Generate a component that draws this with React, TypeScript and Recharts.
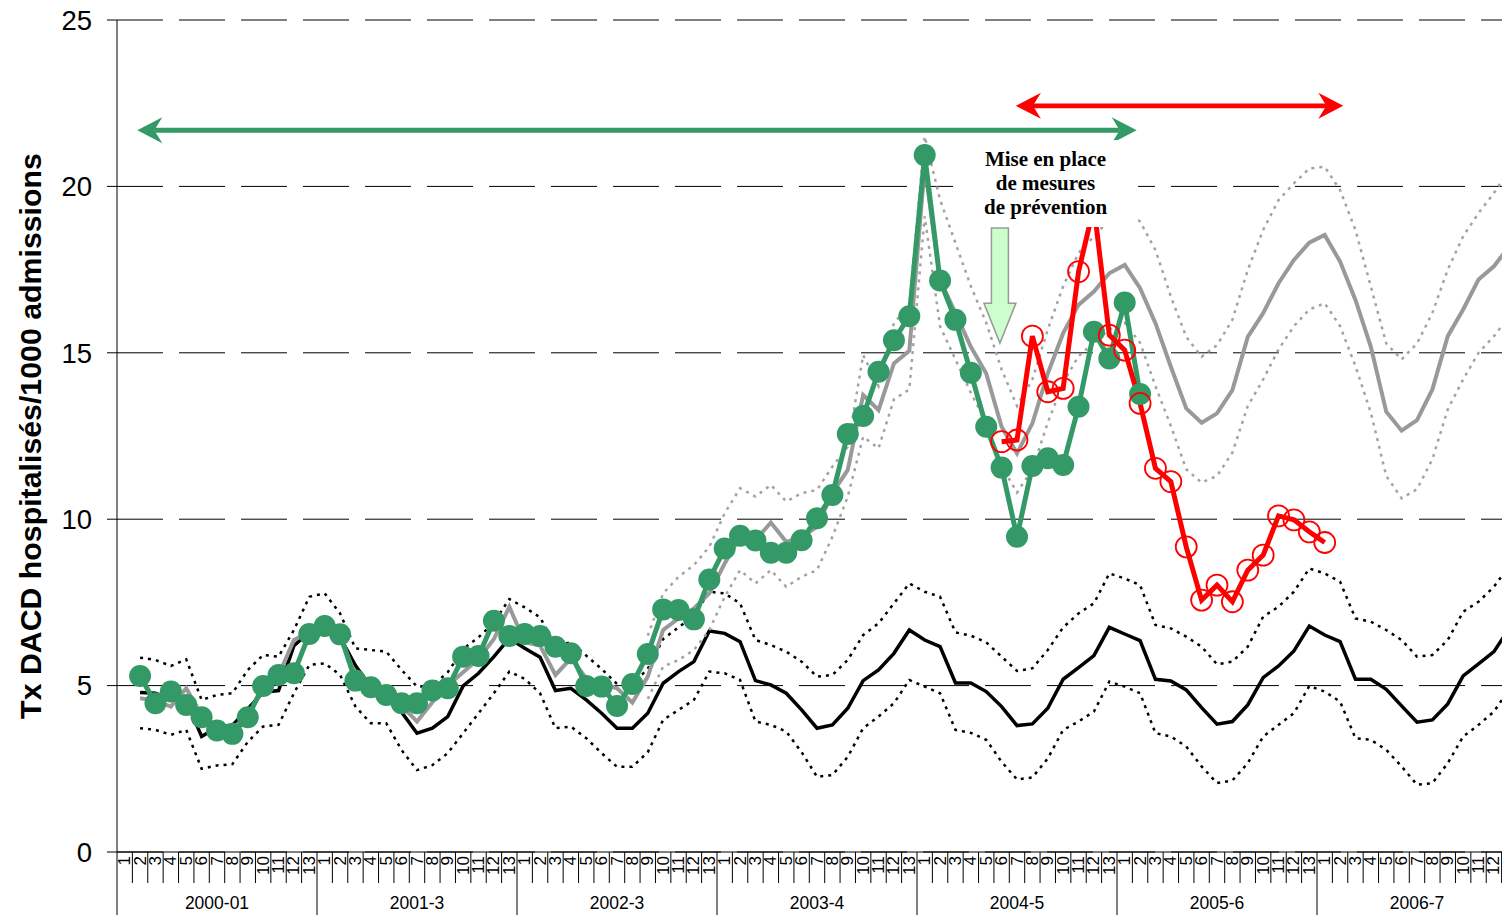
import React from 'react';
import {
  LineChart,
  Line,
  XAxis,
  YAxis,
  CartesianGrid,
  ReferenceLine,
  ReferenceArea,
} from 'recharts';

// Seasons of 13 four-week periods each
const SEASONS = ['2000-01', '2001-3', '2002-3', '2003-4', '2004-5', '2005-6', '2006-7'];
const PERIODS = 13;
const N = SEASONS.length * PERIODS;

const Y_TICKS = [0, 5, 10, 15, 20, 25];

// Expected rate (baseline) and its bounds, one row per season
const expected = [
  null, 4.79, 4.77, 4.6, 4.55, 3.47, 3.75, 3.8, 4.3, 4.8, 4.85, 6.2, 6.6,
  6.75, 6.45, 5.6, 4.95, 4.6, 4.2, 3.57, 3.72, 4.07, 4.99, 5.37, 5.87, 6.42,
  6.12, 5.85, 4.85, 4.92, 4.57, 4.17, 3.72, 3.72, 4.17, 5.07, 5.42, 5.72, 6.64,
  6.57, 6.32, 5.15, 5.02, 4.77, 4.27, 3.72, 3.82, 4.32, 5.15, 5.47, 5.97, 6.67,
  6.37, 6.17, 5.08, 5.08, 4.82, 4.37, 3.8, 3.85, 4.32, 5.19, 5.54, 5.9, 6.75,
  6.55, 6.35, 5.19, 5.14, 4.87, 4.34, 3.84, 3.92, 4.42, 5.24, 5.59, 6.04, 6.79,
  6.52, 6.32, 5.19, 5.19, 4.89, 4.39, 3.9, 3.97, 4.45, 5.29, 5.65, 6.02, 6.72,
];
const expectedHigh = [
  null, 5.84, 5.77, 5.59, 5.79, 4.57, 4.72, 4.77, 5.47, 5.92, 5.87, 6.67, 7.67,
  7.77, 7.17, 6.12, 6.07, 6.02, 5.47, 4.97, 5.0, 5.4, 6.1, 6.45, 6.9, 7.6,
  7.35, 7.05, 6.2, 6.3, 5.9, 5.5, 5.05, 5.05, 5.5, 6.4, 6.75, 7.1, 7.82,
  7.77, 7.47, 6.37, 6.22, 6.02, 5.72, 5.27, 5.32, 5.77, 6.52, 6.87, 7.47, 8.07,
  7.82, 7.67, 6.6, 6.5, 6.3, 5.87, 5.44, 5.52, 6.07, 6.75, 7.17, 7.47, 8.37,
  8.22, 8.02, 6.82, 6.72, 6.47, 6.17, 5.64, 5.72, 6.17, 7.07, 7.37, 7.82, 8.52,
  8.37, 8.12, 7.02, 6.92, 6.67, 6.37, 5.87, 5.92, 6.37, 7.22, 7.52, 7.97, 8.6,
];
const expectedLow = [
  null, 3.72, 3.67, 3.52, 3.67, 2.5, 2.6, 2.64, 3.31, 3.77, 3.82, 4.77, 5.62,
  5.67, 5.32, 4.37, 3.87, 3.87, 3.06, 2.46, 2.61, 2.97, 3.57, 4.17, 4.77, 5.42,
  5.2, 4.77, 3.72, 3.77, 3.42, 2.97, 2.56, 2.56, 3.0, 3.97, 4.27, 4.57, 5.42,
  5.37, 5.17, 3.92, 3.82, 3.62, 3.0, 2.26, 2.31, 2.86, 3.72, 4.07, 4.47, 5.17,
  4.97, 4.77, 3.67, 3.58, 3.37, 2.71, 2.18, 2.24, 2.81, 3.67, 3.92, 4.22, 5.12,
  4.97, 4.77, 3.57, 3.47, 3.17, 2.57, 2.07, 2.15, 2.67, 3.47, 3.82, 4.17, 4.99,
  4.82, 4.52, 3.42, 3.37, 3.07, 2.57, 2.02, 2.07, 2.67, 3.47, 3.82, 4.22, 4.9,
];

// Epidemic model and its bounds
const model = [
  null, 4.62, 4.55, 4.37, 4.92, 4.1, 3.7, 3.7, 4.1, 4.9, 5.3, 6.37, 6.6,
  6.7, 6.5, 5.3, 5.0, 4.7, 4.4, 3.92, 4.5, 5.0, 5.4, 5.8, 6.4, 7.37,
  6.3, 6.2, 5.32, 5.82, 5.22, 5.07, 4.92, 4.49, 5.27, 6.67, 7.02, 7.32, 7.77,
  8.67, 9.47, 9.37, 9.9, 9.32, 9.47, 9.77, 10.78, 11.48, 13.73, 13.28, 14.68, 15.06,
  20.6, 17.19, 16.19, 15.18, 14.38, 12.78, 11.98, 12.88, 14.38, 15.59, 16.44, 16.84, 17.39,
  17.64, 16.94, 15.89, 14.58, 13.33, 12.9, 13.18, 13.88, 15.48, 16.19, 17.09, 17.79, 18.31,
  18.54, 17.74, 16.59, 15.18, 13.23, 12.66, 12.98, 13.9, 15.5, 16.3, 17.2, 17.6, 18.2,
];
const modelHigh = [
  null, null, null, null, null, null, null, null, null, null, null, null, null,
  null, null, null, null, null, null, null, null, null, null, null, null, null,
  null, null, null, null, null, null, null, null, 6.5, 7.77, 8.27, 8.62, 9.17,
  10.18, 10.93, 10.68, 11.03, 10.53, 10.78, 10.88, 11.58, 12.18, 14.93, 14.0, 15.9, 16.4,
  21.5, 19.6, 18.3, 17.0, 15.9, 14.5, 13.4, 14.2, 15.7, 17.0, 18.0, 18.5, 19.0,
  19.3, 18.94, 18.09, 16.69, 15.48, 14.88, 15.23, 15.99, 17.49, 18.69, 19.59, 20.09, 20.54,
  20.59, 19.89, 18.69, 16.99, 15.28, 14.8, 15.28, 16.2, 17.5, 18.5, 19.2, 19.8, 20.5,
];
const modelLow = [
  null, null, null, null, null, null, null, null, null, null, null, null, null,
  null, null, null, null, null, null, null, null, null, null, null, null, null,
  null, null, null, null, null, null, null, null, 4.6, 5.57, 5.77, 6.07, 6.67,
  7.67, 8.47, 8.07, 8.47, 7.97, 8.27, 8.47, 9.47, 10.68, 12.48, 12.13, 13.6, 13.9,
  19.1, 15.8, 14.8, 13.8, 12.9, 11.6, 10.8, 11.5, 12.9, 14.1, 14.9, 15.3, 15.7,
  15.9, 15.3, 14.0, 12.8, 11.5, 11.1, 11.3, 12.0, 13.4, 14.2, 15.1, 15.8, 16.3,
  16.49, 15.8, 14.6, 13.2, 11.3, 10.63, 10.9, 11.8, 13.3, 14.2, 15.0, 15.5, 16.1,
];

// Observed rates: before and after the prevention measures
const observed = [
  null, 5.29, 4.47, 4.82, 4.42, 4.05, 3.65, 3.55, 4.05, 4.99, 5.32, 5.37, 6.55,
  6.79, 6.54, 5.15, 4.95, 4.72, 4.47, 4.47, 4.85, 4.92, 5.87, 5.89, 6.95, 6.49,
  6.55, 6.49, 6.17, 5.97, 4.99, 4.97, 4.39, 5.05, 5.95, 7.29, 7.27, 6.99, 8.19,
  9.12, 9.5, 9.36, 8.99, 8.99, 9.37, 10.03, 10.73, 12.56, 13.1, 14.43, 15.38, 16.1,
  20.94, 17.17, 15.99, 14.4, 12.78, 11.55, 9.47, 11.6, 11.83, 11.63, 13.38, 15.63, 14.83,
  16.51, 13.76, null, null, null, null, null, null, null, null, null, null, null,
  null, null, null, null, null, null, null, null, null, null, null, null, null,
];
const afterPrevention = [
  null, null, null, null, null, null, null, null, null, null, null, null, null,
  null, null, null, null, null, null, null, null, null, null, null, null, null,
  null, null, null, null, null, null, null, null, null, null, null, null, null,
  null, null, null, null, null, null, null, null, null, null, null, null, null,
  null, null, null, null, null, 12.33, 12.38, 15.5, 13.83, 13.93, 17.44, 19.4, 15.53,
  15.08, 13.48, 11.53, 11.13, 9.17, 7.57, 8.02, 7.52, 8.47, 8.92, 10.1, 9.98, 9.62,
  9.3, null, null, null, null, null, null, null, null, null, null, null, null,
];

// Annotations, in axis units (x: period index, y: rate)
const GREEN_SPAN = { from: 1.32, to: 66.28, y: 21.69 };
const RED_SPAN = { from: 58.43, to: 79.71, y: 22.42 };
const NOTE = { x1: 54.34, x2: 66.37, y1: 18.78, y2: 21.39 };
const NOTE_LINES = ['Mise en place', 'de mesures', 'de prévention'];
const NOTE_ARROW = { x: 57.39, top: 18.75, tip: 15.29 };

const CHART_W = 1530;
const CHART_H = 915;
const AXIS_W = 117;
const RIGHT = 13;
const PLOT_W = CHART_W - AXIS_W - RIGHT;
const STEP = PLOT_W / N;

const SANS = '"Liberation Sans", Arial, sans-serif';
const SERIF = '"Liberation Serif", "Times New Roman", serif';
const GREEN = '#339966';
const RED = '#ff0000';
const GREY = '#999999';

const data = Array.from({ length: N }, (_, i) => ({
  x: i + 0.5,
  expected: expected[i],
  expectedHigh: expectedHigh[i],
  expectedLow: expectedLow[i],
  model: model[i],
  modelHigh: modelHigh[i],
  modelLow: modelLow[i],
  observed: observed[i],
  afterPrevention: afterPrevention[i],
}));

const boundaries = Array.from({ length: N }, (_, k) => k);

function PeriodTick(props: any) {
  const { x, y, payload } = props;
  const k: number = payload.value;
  const p = k % PERIODS;
  const first = p === 0;
  return (
    <g>
      <line x1={x} y1={y} x2={x} y2={y + (first ? 63 : 31)} stroke="#000" strokeWidth={1} />
      <text
        transform={`translate(${x + STEP / 2},${y + 4}) rotate(-90)`}
        textAnchor="end"
        dominantBaseline="central"
        fontSize={17}
        fontFamily={SANS}
        fill="#000"
      >
        {p + 1}
      </text>
      {first && (
        <text
          x={x + (STEP * PERIODS) / 2}
          y={y + 57}
          textAnchor="middle"
          fontSize={17.5}
          fontFamily={SANS}
          fill="#000"
        >
          {SEASONS[k / PERIODS]}
        </text>
      )}
    </g>
  );
}

const doubleArrow = (color: string, thickness: number) => (props: any) => {
  const { x1, y1, x2, y2 } = props;
  const y = (y1 + y2) / 2;
  const len = 25;
  const half = 13;
  const notch = 17;
  const l = Math.min(x1, x2);
  const r = Math.max(x1, x2);
  return (
    <g>
      <line x1={l + notch} y1={y} x2={r - notch} y2={y} stroke={color} strokeWidth={thickness} />
      <polygon points={`${l},${y} ${l + len},${y - half} ${l + notch},${y} ${l + len},${y + half}`} fill={color} />
      <polygon points={`${r},${y} ${r - len},${y - half} ${r - notch},${y} ${r - len},${y + half}`} fill={color} />
    </g>
  );
};

function DownArrow(props: any) {
  const { x1, y1, y2 } = props;
  const top = Math.min(y1, y2);
  const tip = Math.max(y1, y2);
  const shaft = 8.5;
  const head = 16;
  const headLen = 40;
  const pts = [
    [x1 - shaft, top],
    [x1 + shaft, top],
    [x1 + shaft, tip - headLen],
    [x1 + head, tip - headLen],
    [x1, tip],
    [x1 - head, tip - headLen],
    [x1 - shaft, tip - headLen],
  ]
    .map((p) => p.join(','))
    .join(' ');
  return <polygon points={pts} fill="#ccffcc" stroke="#9a9a9a" strokeWidth={1.5} />;
}

function NoteBox(props: any) {
  const { x, y, width, height } = props;
  const cx = x + width / 2;
  return (
    <g>
      <rect x={x} y={y} width={width} height={height} fill="#fff" />
      {NOTE_LINES.map((t, i) => (
        <text
          key={t}
          x={cx}
          y={y + 26 + i * 24}
          textAnchor="middle"
          fontFamily={SERIF}
          fontWeight="bold"
          fontSize={21}
          fill="#000"
        >
          {t}
        </text>
      ))}
    </g>
  );
}

export default function App() {
  return (
    <div
      style={{
        position: 'absolute',
        left: 0,
        top: 0,
        width: 1502,
        height: 915,
        overflow: 'hidden',
        background: '#fff',
      }}
    >
      <LineChart
        width={CHART_W}
        height={CHART_H}
        data={data}
        margin={{ top: 20, right: RIGHT, bottom: 0, left: 0 }}
      >
        <CartesianGrid horizontal vertical={false} stroke="#000" strokeDasharray="46 16" />
        <XAxis
          dataKey="x"
          type="number"
          domain={[0, N]}
          ticks={boundaries}
          interval={0}
          height={63}
          tickLine={false}
          tickSize={0}
          tickMargin={0}
          axisLine={{ stroke: '#000' }}
          tick={(p: any) => <PeriodTick {...p} />}
        />
        <YAxis
          type="number"
          domain={[0, 25]}
          ticks={Y_TICKS}
          interval={0}
          width={AXIS_W}
          tickSize={10}
          tickMargin={15}
          axisLine={{ stroke: '#000' }}
          tickLine={{ stroke: '#000' }}
          tick={{ fontSize: 27.5, fill: '#000', fontFamily: SANS }}
        />

        {/* baseline and bounds */}
        <Line dataKey="expectedHigh" stroke="#000" strokeWidth={2.5} strokeDasharray="3 5" dot={false} isAnimationActive={false} />
        <Line dataKey="expectedLow" stroke="#000" strokeWidth={2.5} strokeDasharray="3 5" dot={false} isAnimationActive={false} />
        <Line dataKey="expected" stroke="#000" strokeWidth={3.5} dot={false} isAnimationActive={false} />

        {/* model and bounds */}
        <Line dataKey="modelHigh" stroke="#a3a3a3" strokeWidth={2.5} strokeDasharray="3 5" dot={false} isAnimationActive={false} />
        <Line dataKey="modelLow" stroke="#a3a3a3" strokeWidth={2.5} strokeDasharray="3 5" dot={false} isAnimationActive={false} />
        <Line dataKey="model" stroke={GREY} strokeWidth={4} dot={false} isAnimationActive={false} />

        {/* observed */}
        <Line
          dataKey="observed"
          stroke={GREEN}
          strokeWidth={5}
          dot={{ r: 11, fill: GREEN, stroke: GREEN, strokeWidth: 0 }}
          activeDot={false}
          isAnimationActive={false}
        />
        <Line
          dataKey="afterPrevention"
          stroke={RED}
          strokeWidth={5}
          dot={{ r: 10.5, fill: 'none', stroke: RED, strokeWidth: 1.8 }}
          activeDot={false}
          isAnimationActive={false}
        />

        <ReferenceLine
          segment={[{ x: GREEN_SPAN.from, y: GREEN_SPAN.y }, { x: GREEN_SPAN.to, y: GREEN_SPAN.y }]}
          shape={doubleArrow(GREEN, 5)}
          zIndex={900}
        />
        <ReferenceLine
          segment={[{ x: RED_SPAN.from, y: RED_SPAN.y }, { x: RED_SPAN.to, y: RED_SPAN.y }]}
          shape={doubleArrow(RED, 4.7)}
          zIndex={900}
        />
        <ReferenceArea
          x1={NOTE.x1}
          x2={NOTE.x2}
          y1={NOTE.y1}
          y2={NOTE.y2}
          shape={NoteBox}
          zIndex={900}
        />
        <ReferenceLine
          segment={[{ x: NOTE_ARROW.x, y: NOTE_ARROW.top }, { x: NOTE_ARROW.x, y: NOTE_ARROW.tip }]}
          shape={DownArrow}
          zIndex={900}
        />
      </LineChart>
      <svg style={{ position: 'absolute', left: 0, top: 0 }} width={60} height={CHART_H}>
        <text
          transform="translate(30,436) rotate(-90)"
          textAnchor="middle"
          dominantBaseline="central"
          fontFamily={SANS}
          fontWeight="bold"
          fontSize={30.3}
          fill="#000"
        >
          Tx DACD hospitalisés/1000 admissions
        </text>
      </svg>
    </div>
  );
}
